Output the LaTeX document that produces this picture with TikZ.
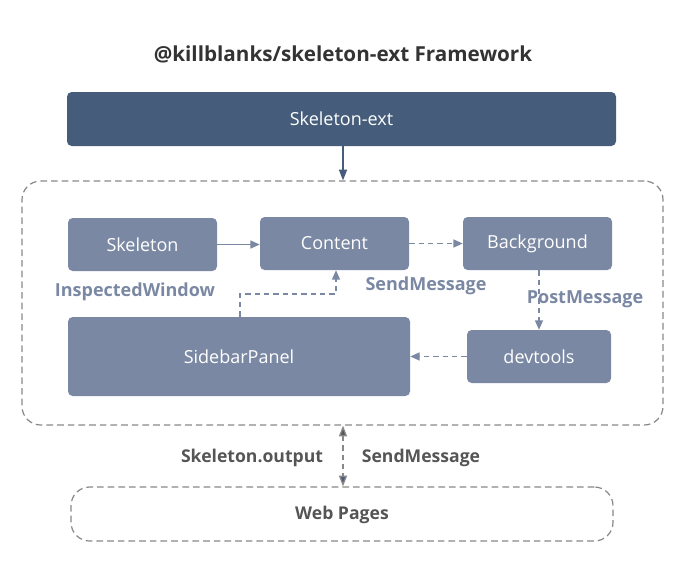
\documentclass[tikz,border=0pt]{standalone}
\usepackage{fontspec}
\setmainfont{Open Sans}
\usetikzlibrary{arrows.meta}
\definecolor{dark}{HTML}{455D7A}
\definecolor{mid}{HTML}{7A88A3}
\definecolor{gline}{HTML}{888888}
\definecolor{txt}{HTML}{555555}
\definecolor{ttl}{HTML}{333333}
\begin{document}
\begin{tikzpicture}[x=0.75pt,y=-0.75pt,
  box/.style={draw=none,fill=mid,rounded corners=3.5pt,text=white,font=\fontsize{13.5}{15}\selectfont,inner sep=0pt},
  conn/.style={draw=mid,line width=1pt,-{Triangle[length=7pt,width=6pt]}},
  dconn/.style={conn,dash pattern=on 4pt off 3pt},
  lbl/.style={text=mid,font=\fontsize{13.5}{15}\selectfont\bfseries},
  dlbl/.style={text=txt,font=\fontsize{13.2}{15}\selectfont\bfseries},
  frame/.style={draw=gline,dash pattern=on 5pt off 3pt,line width=0.9pt,rounded corners=14pt}]
\useasboundingbox (0,0) rectangle (700,586);
\node[text=ttl,font=\fontsize{15.5}{18}\selectfont\bfseries] (title) at (343,54) {@killblanks/skeleton-ext Framework};
\node[box,fill=dark,minimum width=549*0.75pt,minimum height=54*0.75pt] (ext) at (341.5,119) {Skeleton-ext};
\node[frame,minimum width=641*0.75pt,minimum height=244*0.75pt] (outer) at (342.5,303) {};
\node[box,minimum width=149*0.75pt,minimum height=53*0.75pt] (skel) at (142.5,244.5) {Skeleton};
\node[box,minimum width=149*0.75pt,minimum height=53*0.75pt] (content) at (334.5,243.5) {Content};
\node[box,minimum width=149*0.75pt,minimum height=53*0.75pt] (bg) at (537.5,243.5) {Background};
\node[box,minimum width=342*0.75pt,minimum height=79*0.75pt] (side) at (239,356.5) {SidebarPanel};
\node[box,minimum width=144*0.75pt,minimum height=53*0.75pt] (dev) at (539,356.5) {devtools};
\node[frame,minimum width=542*0.75pt,minimum height=54*0.75pt,fill=white] (web) at (342,514) {};
\node[text=txt,font=\fontsize{13.2}{15}\selectfont\bfseries] (webt) at (342,515) {Web Pages};
\draw[conn,draw=dark,-{Triangle[length=8pt,width=6pt]}] (ext.south -| 343,0) -- (outer.north -| 343,0);
\draw[conn] (skel.east) -- (content.west |- 0,244.5);
\draw[dconn] (content.east) -- (bg.west);
\draw[dconn] (bg.south -| 539,0) -- (dev.north);
\draw[dconn] (dev.west) -- (side.east |- dev.west);
\coordinate (c1) at (240,294);
\draw[dconn] (side.north -| c1) -- (c1) -| (content.south -| 336,0);
\node[lbl] (iw) at (135,292) {InspectedWindow};
\node[lbl] (sm1) at (426,286) {SendMessage};
\node[lbl] (pm) at (585,299) {PostMessage};
\draw[draw=gline,line width=1pt,dash pattern=on 4pt off 3pt,
  {Triangle[length=8pt,width=6pt,fill=txt]}-{Triangle[length=8pt,width=6pt,fill=dark]}]
  (outer.south -| 343,0) -- (web.north -| 343,0);
\node[dlbl] (so) at (252,458) {Skeleton.output};
\node[dlbl] (sm2) at (421,458) {SendMessage};
\end{tikzpicture}
\end{document}
